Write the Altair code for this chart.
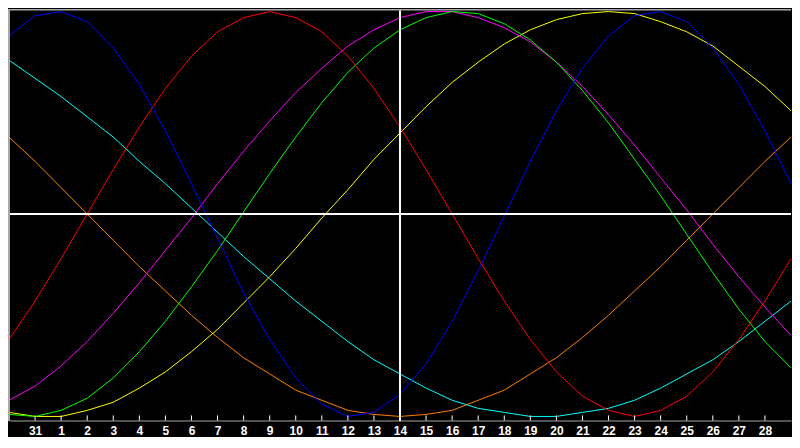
import altair as alt
import pandas as pd

# day index -1..29 (labels 30, 31, 1 .. 29)
day_index = [-1, 0, 1, 2, 3, 4, 5, 6, 7, 8, 9, 10, 11, 12, 13, 14, 15, 16, 17, 18,
             19, 20, 21, 22, 23, 24, 25, 26, 27, 28, 29]
day_labels = ["30", "31", "1", "2", "3", "4", "5", "6", "7", "8", "9", "10", "11", "12",
              "13", "14", "15", "16", "17", "18", "19", "20", "21", "22", "23", "24",
              "25", "26", "27", "28", "29"]
tick_index = [0, 1, 2, 3, 4, 5, 6, 7, 8, 9, 10, 11, 12, 13, 14, 15, 16, 17, 18, 19,
              20, 21, 22, 23, 24, 25, 26, 27, 28]
today_index = 14

physical = [88, 98, 100, 95, 82, 64, 41, 15, -12, -39, -62, -81, -94, -100, -98, -89,
            -74, -53, -28, -1, 26, 51, 72, 88, 98, 100, 95, 82, 64, 41, 15]
emotional = [-62, -43, -22, 0, 22, 43, 62, 78, 90, 97, 100, 97, 90, 78, 62, 43, 22, 0,
             -22, -43, -62, -78, -90, -97, -100, -97, -90, -78, -62, -43, -22]
intellectual = [-99, -100, -97, -91, -81, -68, -53, -36, -18, 1, 20, 38, 55, 70, 82, 91,
                97, 100, 99, 94, 86, 75, 61, 45, 27, 9, -10, -29, -47, -63, -76]
intuitive = [-92, -85, -75, -63, -49, -34, -18, -2, 15, 31, 46, 60, 72, 83, 91, 97, 100,
             100, 97, 92, 85, 75, 63, 49, 34, 18, 2, -15, -31, -46, -60]
aesthetic = [-98, -100, -100, -97, -93, -86, -78, -68, -57, -44, -31, -17, -2, 12, 27,
             40, 53, 65, 75, 84, 91, 96, 99, 100, 99, 95, 90, 83, 73, 63, 51]
awareness = [38, 26, 13, 0, -13, -26, -38, -50, -61, -71, -79, -87, -92, -97, -99, -100,
             -99, -97, -92, -87, -79, -71, -61, -50, -38, -26, -13, 0, 13, 26, 38]
spiritual = [76, 67, 58, 48, 38, 26, 15, 3, -9, -21, -32, -43, -53, -63, -72, -79, -86,
             -92, -96, -98, -100, -100, -98, -96, -92, -86, -79, -72, -63, -53, -43]

series_names = ["Spiritual", "Awareness", "Aesthetic", "Intuitive", "Intellectual",
                "Emotional", "Physical"]
series_values = [spiritual, awareness, aesthetic, intuitive, intellectual, emotional,
                 physical]
series_colors = ["#00ffff", "#ff8000", "#ffff00", "#ff00ff", "#00ff00", "#ff0000",
                 "#0000ff"]

rows = []
for name, vals in zip(series_names, series_values):
    for t, v in zip(day_index, vals):
        rows.append({"t": t, "v": v, "series": name})
df = pd.DataFrame(rows)
ticks_df = pd.DataFrame({"t": tick_index})

label_js = "[" + ",".join("'" + s + "'" for s in day_labels) + "]"

xscale = alt.Scale(domain=[-1, 29], nice=False, zero=False)
yscale = alt.Scale(domain=[-102, 101], nice=False, zero=False)

x_axis = alt.Axis(
    values=tick_index, labelExpr=label_js + "[datum.value + 1]",
    title=None, grid=False, ticks=False, domainColor="#a8a8a8", domainWidth=1,
    labelColor="white", labelFont="Liberation Sans", labelFontWeight="bold",
    labelFontSize=12, labelPadding=5, labelFlush=False, labelOverlap=False,
    labelBound=False)

lines = alt.Chart(df).mark_line(strokeWidth=1, clip=True).encode(
    x=alt.X("t:Q", scale=xscale, axis=x_axis),
    y=alt.Y("v:Q", scale=yscale, axis=None),
    color=alt.Color("series:N", scale=alt.Scale(domain=series_names, range=series_colors),
                    legend=None),
    detail="series:N",
)

base = alt.Chart(ticks_df)

tick_marks = base.mark_rule(color="white", strokeWidth=1).encode(
    x=alt.X("t:Q", scale=xscale, axis=x_axis),
    y=alt.datum(-102, scale=yscale, axis=None),
    y2=alt.datum(-99.5),
)

zero_line = base.mark_rule(color="white", strokeWidth=1).encode(
    y=alt.datum(0, scale=yscale, axis=None))
today_line = base.mark_rule(color="white", strokeWidth=1).encode(
    x=alt.datum(today_index, scale=xscale, axis=x_axis))
top_border = base.mark_rule(color="#a8a8a8", strokeWidth=1).encode(
    y=alt.datum(101, scale=yscale, axis=None))
left_border = base.mark_rule(color="#a8a8a8", strokeWidth=1).encode(
    x=alt.datum(-1, scale=xscale, axis=x_axis))

chart = alt.layer(lines, zero_line, today_line, tick_marks, top_border, left_border).properties(
    width=784, height=412, padding=0, background="black"
).configure_view(strokeWidth=0).configure_axisX(labelOverlap=False)

chart.save("out.html", embed_options={"renderer": "svg", "actions": False})
